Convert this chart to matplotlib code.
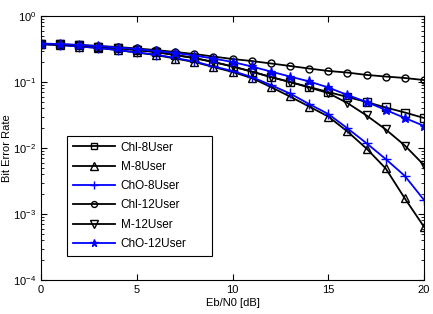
import matplotlib
matplotlib.use("Agg")
import matplotlib.pyplot as plt

plt.rcParams['font.family'] = ['Liberation Sans', 'DejaVu Sans']
plt.rcParams['mathtext.fontset'] = 'custom'
plt.rcParams['mathtext.rm'] = 'Liberation Sans'
plt.rcParams['mathtext.it'] = 'Liberation Sans'

ebn0 = list(range(0, 21))
chl_8 = [0.376, 0.370, 0.358, 0.345, 0.328, 0.305, 0.285, 0.256, 0.231, 0.201, 0.172,
         0.144, 0.119, 0.100, 0.084, 0.0705, 0.0593, 0.0498, 0.0411, 0.0345, 0.0285]
m_8 = [0.376, 0.364, 0.345, 0.328, 0.305, 0.280, 0.256, 0.227, 0.201, 0.169, 0.142,
       0.115, 0.084, 0.0603, 0.0425, 0.030, 0.0178, 0.0098, 0.0049, 0.00172, 0.00064]
cho_8 = [0.376, 0.364, 0.345, 0.328, 0.305, 0.280, 0.261, 0.231, 0.205, 0.172, 0.147,
         0.119, 0.090, 0.067, 0.0464, 0.0328, 0.0199, 0.0118, 0.0068, 0.00377, 0.00163]
chl_12 = [0.376, 0.370, 0.364, 0.351, 0.339, 0.322, 0.305, 0.285, 0.266, 0.243, 0.223,
          0.208, 0.191, 0.175, 0.160, 0.147, 0.139, 0.128, 0.121, 0.115, 0.107]
m_12 = [0.376, 0.370, 0.358, 0.345, 0.328, 0.305, 0.285, 0.256, 0.231, 0.201, 0.172,
        0.144, 0.119, 0.100, 0.0826, 0.068, 0.048, 0.0311, 0.0191, 0.0109, 0.0055]
cho_12 = [0.383, 0.376, 0.364, 0.351, 0.333, 0.316, 0.295, 0.275, 0.252, 0.227, 0.201,
          0.172, 0.144, 0.121, 0.102, 0.0826, 0.0636, 0.0498, 0.0377, 0.0285, 0.0216]

labels = ['Chl-8User', 'M-8User', 'ChO-8User', 'Chl-12User', 'M-12User', 'ChO-12User']
series = [chl_8, m_8, cho_8, chl_12, m_12, cho_12]
colors = ['black', 'black', 'blue', 'black', 'black', 'blue']
markers = ['s', '^', '+', 'o', 'v', '*']
sizes = [5.5, 6, 7, 5, 6, 6.5]

fig = plt.figure(figsize=(4.33, 3.14), dpi=100)
ax = fig.add_axes([41/433, 1-280/314, 383/433, 264/314])

for y, lab, c, m, ms in zip(series, labels, colors, markers, sizes):
    fc = c if m == '*' else 'none'
    ax.plot(ebn0, y, color=c, marker=m, markersize=ms, markerfacecolor=fc,
            markeredgecolor=c, markeredgewidth=1.0, linewidth=1.3, label=lab)

ax.set_yscale('log')
ax.set_xlim(0, 20)
ax.set_ylim(1e-4, 1)
ax.set_xticks([0, 5, 10, 15, 20])
ax.tick_params(which='both', direction='in', top=True, right=True, labelsize=8)
ax.tick_params(which='major', length=4)
ax.tick_params(which='minor', length=2)
ax.set_xlabel('Eb/N0 [dB]', fontsize=8, labelpad=2)
ax.set_ylabel('Bit Error Rate', fontsize=8, labelpad=1)
for s in ax.spines.values():
    s.set_linewidth(0.8)

leg = ax.legend(loc='lower left', bbox_to_anchor=(26/383, 24/264, 145/383, 121/264),
                mode='expand', borderaxespad=0, borderpad=0.5,
                fontsize=8.5, handlelength=3.6, handletextpad=0.45, labelspacing=0.62,
                markerscale=0.85, fancybox=False, edgecolor='black', framealpha=1)
leg.get_frame().set_linewidth(0.8)

fig.savefig('out.png', dpi=100)
